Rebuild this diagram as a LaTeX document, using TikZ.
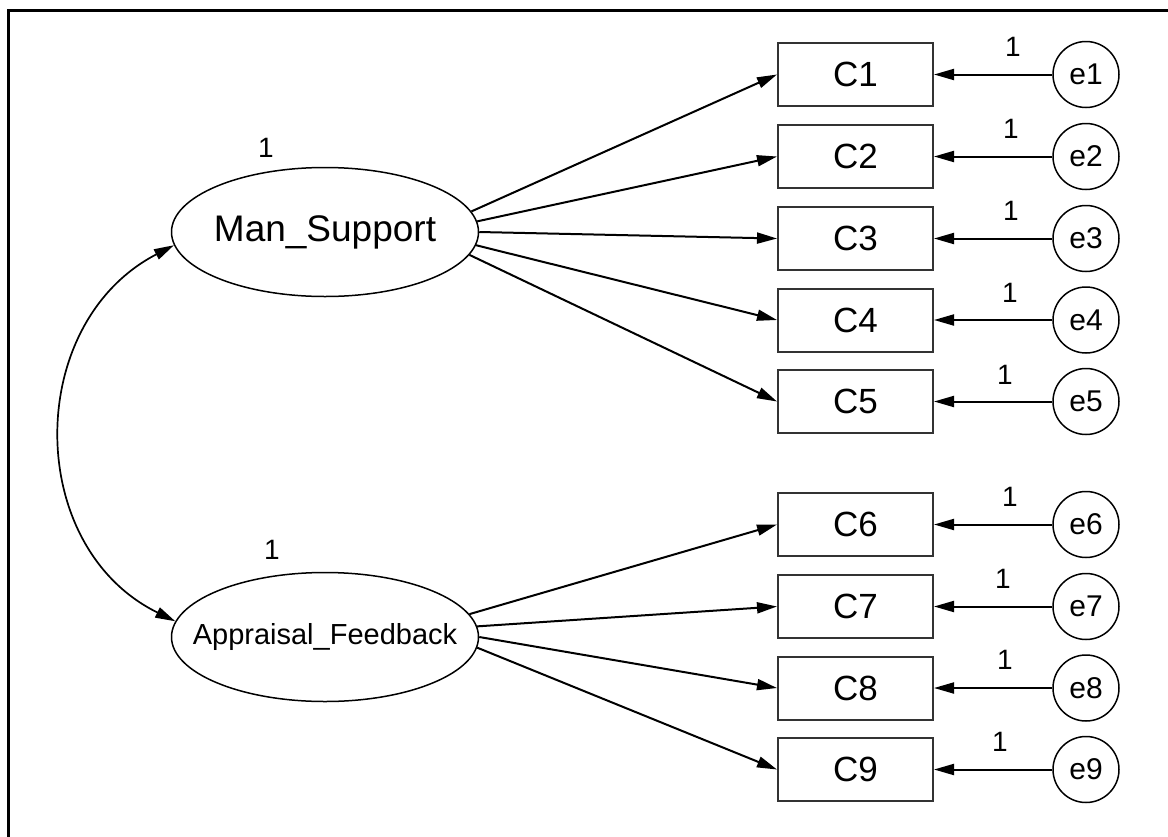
\documentclass[tikz,border=0pt]{standalone}
\usepackage{fontspec}
\setmainfont{Liberation Sans}
\usetikzlibrary{arrows.meta,shapes.geometric}
\begin{document}
\begin{tikzpicture}[x=1pt,y=-1pt,
  lat/.style={draw=black,line width=1.5pt,ellipse,minimum width=307pt,minimum height=129pt,inner sep=0pt},
  obs/.style={draw=black!80,line width=2pt,rectangle,minimum width=155pt,minimum height=63pt,inner sep=0pt,font=\fontsize{35}{40}\selectfont},
  err/.style={draw=black,line width=1.5pt,circle,minimum size=66pt,inner sep=0pt,font=\fontsize{30}{34}\selectfont},
  lbl/.style={inner sep=0pt,font=\fontsize{28}{32}\selectfont},
  path/.style={draw=black,line width=2pt,-{Triangle[length=20pt,width=11pt]}},
  cov/.style={draw=black,line width=1.7pt,{Triangle[length=20pt,width=11pt]}-{Triangle[length=20pt,width=11pt]}}
]
\useasboundingbox (0,0) rectangle (1168,836);
\fill[white] (0,0) rectangle (1168,836);
\draw[line width=3pt] (8,840) -- (8,10) -- (1172,10);

% latent variables
\node[lat,label={[font=\fontsize{37}{42}\selectfont,inner sep=0pt]center:Man\_Support}] (MS) at (325,232) {};
\node[lat,label={[font=\fontsize{29}{34}\selectfont,inner sep=0pt]center:Appraisal\_Feedback}] (AF) at (325,637) {};
\node[lbl] (vMS) at (266,148) {1};
\node[lbl] (vAF) at (272,550) {1};

% observed
\node[obs] (C1) at (855.5,74.5) {C1};
\node[obs] (C2) at (855.5,156.5) {C2};
\node[obs] (C3) at (855.5,238.5) {C3};
\node[obs] (C4) at (855.5,320) {C4};
\node[obs] (C5) at (855.5,401.5) {C5};
\node[obs] (C6) at (855.5,524.5) {C6};
\node[obs] (C7) at (855.5,606.5) {C7};
\node[obs] (C8) at (855.5,688) {C8};
\node[obs] (C9) at (855.5,769.5) {C9};

% errors
\node[err] (e1) at (1086,74.5) {e1};
\node[err] (e2) at (1086,156.5) {e2};
\node[err] (e3) at (1086,238.5) {e3};
\node[err] (e4) at (1086,320) {e4};
\node[err] (e5) at (1086,401.5) {e5};
\node[err] (e6) at (1086,524.5) {e6};
\node[err] (e7) at (1086,606.5) {e7};
\node[err] (e8) at (1086,688) {e8};
\node[err] (e9) at (1086,769.5) {e9};

% error weights
\node[lbl] (w1) at (1013,47) {1};
\node[lbl] (w2) at (1011,129) {1};
\node[lbl] (w3) at (1011,211) {1};
\node[lbl] (w4) at (1010,293) {1};
\node[lbl] (w5) at (1005,375) {1};
\node[lbl] (w6) at (1010,497) {1};
\node[lbl] (w7) at (1003,579) {1};
\node[lbl] (w8) at (1005,660) {1};
\node[lbl] (w9) at (1000,742) {1};

% loadings
\draw[path] (MS.8.5) -- (C1.west);
\draw[path] (MS.4.5) -- (C2.west);
\draw[path] (MS.0) -- (C3.west);
\draw[path] (MS.-5.2) -- (C4.west);
\draw[path] (MS.-9.6) -- (C5.west);
\draw[path] (AF.9.3) -- (C6.west);
\draw[path] (AF.4.5) -- (C7.west);
\draw[path] (AF.0) -- (C8.west);
\draw[path] (AF.-4.9) -- (C9.west);

% error paths
\foreach \i in {1,...,9}{\draw[path] (e\i.west) -- (C\i.east);}

% covariance
\coordinate (k1) at (24,323);
\coordinate (k2) at (24,547);
\draw[cov] (MS.185.6) .. controls (k1) and (k2) .. (AF.174.7);
\end{tikzpicture}
\end{document}
